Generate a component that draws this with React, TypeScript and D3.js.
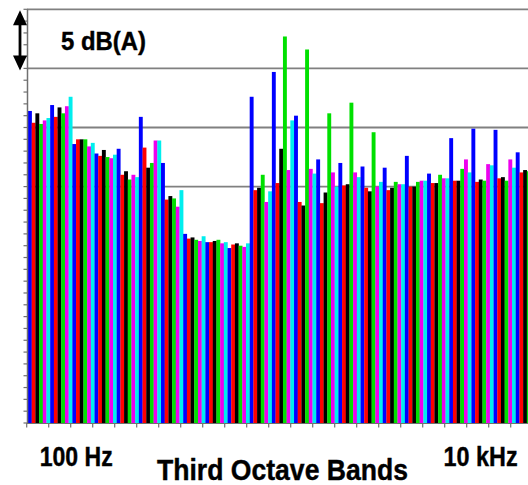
import React, { useEffect, useRef } from "react";
import * as d3 from "d3";

// third octave band centres shown on the chart
const bands = ["80", "100", "125", "160", "200", "250", "315", "400", "500", "630", "800", "1k", "1.25k", "1.6k", "2k", "2.5k", "3.15k", "4k", "5k", "6.3k", "8k", "10k", "12.5k"];

// levels, dB(A) relative
const blue = [26.4, 26.9, 23.6, 22.8, 23.2, 25.9, 22.0, 16.0, 15.3, 14.8, 27.6, 29.7, 26.0, 22.3, 22.0, 21.7, 21.6, 22.6, 21.1, 24.1, 24.9, 24.8, 22.9];
const red = [25.4, 25.9, 24.0, 22.6, 21.0, 23.3, 18.9, 15.6, 15.3, 15.1, 19.7, 20.3, 18.7, 18.6, 20.1, 19.9, 19.7, 20.0, 20.3, 20.5, 20.4, 20.7, 21.2];
const black = [26.2, 26.7, 24.0, 23.1, 21.3, 21.6, 19.2, 15.7, 15.4, 15.2, 19.9, 23.2, 18.4, 19.5, 20.2, 19.6, 19.9, 20.0, 20.3, 20.5, 20.6, 20.8, 21.4];
const green = [25.3, 26.2, 24.0, 22.5, 20.6, 22.0, 19.0, 15.5, 15.5, 15.0, 21.0, 32.7, 31.6, 26.2, 27.1, 24.6, 20.4, 20.4, 21.0, 21.5, 20.5, 20.5, 21.3];
const magenta = [25.6, 26.8, 23.4, 22.4, 21.0, 23.9, 18.3, 15.4, 15.2, 14.9, 18.7, 21.4, 21.5, 21.2, 21.2, 20.0, 20.2, 20.5, 20.7, 22.3, 21.9, 22.3, 21.8];
const cyan = [25.8, 27.6, 23.7, 22.7, 20.8, 23.9, 19.7, 15.8, 15.3, 15.2, 19.6, 25.6, 21.1, 20.0, 20.8, 20.4, 20.2, 20.5, 20.7, 21.2, 21.8, 21.6, 21.0];

const seriesNames = ["blue", "red", "black", "green", "magenta", "cyan"];
const seriesValues = [blue, red, black, green, magenta, cyan];
const seriesColors = ["#0000ff", "#ff0000", "#000000", "#00e000", "#ee00ee", "#00eeee"];

const gridValues = [20, 25, 30, 35];

const App = () => {
  const ref = useRef<SVGSVGElement>(null);

  useEffect(() => {
    const width = 528;
    const svg = d3.select(ref.current);
    svg.selectAll("*").remove();

    const x = d3
      .scaleBand()
      .domain(bands)
      .range([28, 28 + bands.length * 22.17])
      .padding(0);
    const xs = d3.scaleBand().domain(seriesNames).range([0, x.bandwidth()]);
    const y = d3.scaleLinear().domain([0, 35]).range([423, 9.3]);
    // axis ticks (spaced a touch tighter than the bars in the original)
    const tx = d3.scaleLinear().domain([0, 22]).range([26.7, 510.7]);

    // grid
    svg
      .append("g")
      .selectAll("line")
      .data(gridValues)
      .enter()
      .append("line")
      .attr("x1", 27)
      .attr("x2", width)
      .attr("y1", (d) => y(d))
      .attr("y2", (d) => y(d))
      .attr("stroke", "#808080")
      .attr("stroke-width", 1.8);

    // bars
    const rows = bands.flatMap((b, i) =>
      seriesNames.map((s, j) => ({ band: b, series: s, value: seriesValues[j][i], color: seriesColors[j] }))
    );
    svg
      .append("g")
      .selectAll("rect")
      .data(rows)
      .enter()
      .append("rect")
      // @ts-ignore
      .attr("x", (d) => x(d.band) + xs(d.series))
      .attr("y", (d) => y(d.value))
      .attr("width", xs.bandwidth() + 0.2)
      .attr("height", (d) => y(0) - y(d.value))
      .attr("fill", (d) => d.color);

    // y axis with 1 dB minor ticks
    const yAxis = svg.append("g").attr("stroke", "#707070");
    yAxis
      .append("line")
      .attr("x1", 27.5)
      .attr("x2", 27.5)
      .attr("y1", y(0))
      .attr("y2", y(35))
      .attr("stroke-width", 1.5);
    yAxis
      .selectAll("line.tick")
      .data(d3.range(0, 36))
      .enter()
      .append("line")
      .attr("class", "tick")
      .attr("x1", 23.5)
      .attr("x2", 27.5)
      .attr("y1", (d) => y(d))
      .attr("y2", (d) => y(d))
      .attr("stroke-width", 1.2);

    // x axis
    const xAxis = svg.append("g").attr("stroke", "#707070");
    xAxis
      .append("line")
      .attr("x1", 27)
      .attr("x2", width)
      .attr("y1", y(0) + 0.5)
      .attr("y2", y(0) + 0.5)
      .attr("stroke-width", 1.2);
    xAxis
      .selectAll("line.tick")
      .data(d3.range(0, 23))
      .enter()
      .append("line")
      .attr("class", "tick")
      .attr("x1", (d) => tx(d))
      .attr("x2", (d) => tx(d))
      .attr("y1", y(0))
      .attr("y2", y(0) + 4.5)
      .attr("stroke-width", 1.2);

    // 5 dB scale arrow
    const ax = 20;
    const top = y(35) + 1;
    const bot = y(30) + 2;
    svg
      .append("line")
      .attr("x1", ax)
      .attr("x2", ax)
      .attr("y1", top + 10)
      .attr("y2", bot - 10)
      .attr("stroke", "#000")
      .attr("stroke-width", 2.8);
    svg
      .append("path")
      .attr("d", `M${ax},${top} L${ax - 7},${top + 15} L${ax + 7},${top + 15} Z M${ax},${bot} L${ax - 7},${bot - 15} L${ax + 7},${bot - 15} Z`)
      .attr("fill", "#000");

    const font = "'Liberation Sans', Arial, sans-serif";
    const label = (t: string, px: number, py: number, size: number, len: number) =>
      svg
        .append("text")
        .text(t)
        .attr("x", px)
        .attr("y", py)
        .attr("font-family", font)
        .attr("font-weight", "bold")
        .attr("font-size", `${size}px`)
        .attr("textLength", len)
        .attr("lengthAdjust", "spacingAndGlyphs")
        .attr("stroke", "#000")
        .attr("stroke-width", 0.4);

    label("5 dB(A)", 61, 50, 25, 85);
    // @ts-ignore
    label("100 Hz", x("100") - 10.5, 466, 27, 73);
    // @ts-ignore
    label("10 kHz", x("10k") - 50, 466, 27, 74);
    label("Third Octave Bands", 157, 480, 29, 251);
  }, []);

  return (
    <svg
      ref={ref}
      width={528}
      height={485}
      style={{ position: "absolute", left: 0, top: 0, background: "#fff" }}
    />
  );
};

export default App;
